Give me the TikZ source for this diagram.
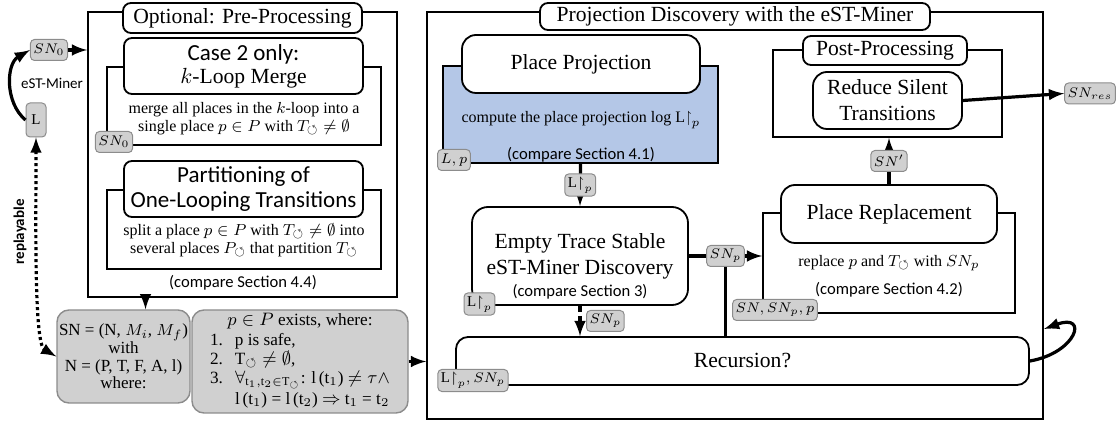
\documentclass[tikz,border=0pt]{standalone}
\usepackage{amssymb}
\usepackage{fontspec}
\setmainfont{Liberation Serif}
\setsansfont{Carlito}
\usetikzlibrary{calc}

\definecolor{tagfill}{HTML}{D0D0D0}
\definecolor{tagdraw}{HTML}{8C8C8C}
\definecolor{projblue}{HTML}{B4C7E7}

\newcommand{\Tloop}{T_{\circlearrowleft}}
\newcommand{\plog}{\mathrm{L}{\upharpoonright}_p}

\begin{document}
\begin{tikzpicture}[x=0.5pt, y=-0.5pt,
    sz/.style 2 args={minimum width=#1*0.5pt, minimum height=#2*0.5pt},
    frame/.style={draw, line width=0.9pt, inner sep=0pt},
    titlebox/.style={draw, line width=0.9pt, rounded corners=4pt, fill=white, inner sep=0pt, align=center},
    tag/.style={draw=tagdraw, fill=tagfill, solid, line width=0.5pt, rounded corners=2pt, inner sep=1.5pt, minimum height=10.5pt, font=\fontsize{7.5}{8}\selectfont},
    graybox/.style={draw=tagdraw, fill=tagfill, rounded corners=6pt, inner sep=1pt, line width=0.7pt, align=center},
    big/.style={font=\fontsize{10.8}{13}\selectfont},
    mid/.style={font=\fontsize{8}{9}\selectfont, align=center},
    cmp/.style={font=\sffamily\fontsize{8.3}{10}\selectfont},
    flow/.style={-latex, line width=1.6pt},
    dflow/.style={-latex, line width=1.6pt, dash pattern=on 3pt off 2pt},
]
    \useasboundingbox (0,0) rectangle (1118,421);

    % pre-processing
    \node[frame, sz={309}{285}] (pre) at (242.5,154.5) {};
    \node[titlebox, big, sz={239}{30}] (pretitle) at (242.5,18) {Optional: Pre-Processing};
    \node[frame, sz={274}{78}] (merge) at (244,106) {};
    \node[titlebox, sz={239}{56}, font=\fontsize{10.8}{11.5}\selectfont] (mergetitle) at (243.5,66) {{\sffamily\fontsize{11.5}{11.5}\selectfont Case 2 only:}\\$k$-Loop Merge};
    \node[mid] (mergetext) at (244,119) {merge all places in the $k$-loop into a\\single place $p \in P$ with $\Tloop \neq \emptyset$};
    \node[tag] (sn0a) at (114,142) {$SN_0$};
    \node[frame, sz={274}{79}] (part) at (244,229.5) {};
    \node[titlebox, sz={239}{56}, font=\sffamily\fontsize{11.5}{12.5}\selectfont] (parttitle) at (243.5,189) {Partitioning of\\One-Looping Transitions};
    \node[mid] (parttext) at (244,240) {split a place $p \in P$ with $\Tloop \neq \emptyset$ into\\several places $P_{\circlearrowleft}$ that partition $\Tloop$};
    \node[cmp] (precmp) at (243,283) {(compare Section 4.4)};

    % input side
    \node[tag] (sn0) at (49,50) {$SN_0$};
    \node[tag, sz={20}{34}] (ltag) at (36,120) {L};
    \node[font=\sffamily\fontsize{7.5}{9}\selectfont] (minerlbl) at (52,83) {eST-Miner};
    \node[font=\sffamily\bfseries\fontsize{7.5}{9}\selectfont, rotate=90] (repllbl) at (20,232) {replayable};
    \node[graybox, sz={133}{93}, font=\fontsize{8.5}{8.8}\selectfont] (snbox) at (123.5,356.5) {SN = (N, $M_i$, $M_f$)\\with\\N = (P, T, F, A, l)\\where:};
    \node[graybox, sz={216}{103}, font=\fontsize{8.6}{9.6}\selectfont] (cond) at (300,361.5) {\begin{tabular}{@{}l@{\hspace{6pt}}l@{}}
        \multicolumn{2}{c}{$p \in P$ exists, where:}\\
        1. & p is safe,\\
        2. & T$_{\circlearrowleft} \neq \emptyset$,\\
        3. & $\forall_{\mathrm{t}_1,\mathrm{t}_2 \in \mathrm{T}_{\circlearrowleft}}$: l\,(t$_1$) $\neq \tau \wedge$\\[1pt]
           & l\,(t$_1$) = l\,(t$_2$) $\Rightarrow$ t$_1$ = t$_2$
    \end{tabular}};

    \draw[flow] (sn0.east) -- (sn0.east -| pre.west);
    \draw[flow] (ltag.west) to[out=140, in=210] (sn0.west);
    \draw[latex-latex, line width=1.6pt, dash pattern=on 1.5pt off 1.5pt] (ltag.south) to[out=-90, in=150, in looseness=0.3] (snbox.west);
    \draw[dflow] (pre.south -| snbox.65) -- (snbox.65);

    % projection discovery
    \node[frame, sz={616}{407}] (right) at (735,215.5) {};
    \node[titlebox, big, sz={390}{27}] (righttitle) at (735,16.5) {Projection Discovery with the eST-Miner};
    \draw[flow] (cond.east) -- (cond.east -| right.west);

    \node[frame, fill=projblue, sz={275}{97}] (proj) at (580.5,114.5) {};
    \node[titlebox, big, sz={238}{58}, rounded corners=7pt] (projtitle) at (581,64) {Place Projection};
    \node[mid] (projtext) at (581,120) {compute the place projection log $\plog$};
    \node[cmp] (projcmp) at (581,155) {(compare Section 4.1)};
    \node[tag] (lp) at (454,160) {$L, p$};

    \node[titlebox, sz={216}{98}, rounded corners=8pt] (est) at (580,256) {};
    \node[big, align=center] (esttext) at (580,256) {Empty Trace Stable\\eST-Miner Discovery};
    \node[cmp] (estcmp) at (580,292) {(compare Section 3)};
    \node[tag] (estin) at (479.5,304) {$\plog$};
    \draw[flow] (proj.south) -- node[tag] (projout) {$\plog$} (est.north);

    \node[titlebox, big, sz={573}{48}, rounded corners=6pt] (rec) at (742.5,361) {Recursion?};
    \node[tag] (recin) at (473,380.5) {$\plog, SN_p$};
    \draw[dflow] (est.south) -- node[tag, right=3pt] (estout) {$SN_p$} (est.south |- rec.north);

    \node[frame, sz={252}{100}] (repl) at (889,263) {};
    \node[titlebox, big, sz={216}{58}, rounded corners=7pt] (repltitle) at (889,214) {Place Replacement};
    \node[mid] (repltext) at (889,263) {replace $p$ and $\Tloop$ with $SN_p$};
    \node[cmp] (replcmp) at (889,290) {(compare Section 4.2)};
    \node[tag] (replin) at (775,310) {$SN, SN_p, p$};
    \draw[flow] (est.east) -- node[tag] (snpmid) {$SN_p$} (est.east -| repl.west);
    \draw[line width=1.6pt] (snpmid.south) -- (snpmid.south |- rec.north);

    % post-processing
    \node[frame, sz={229}{87}] (post) at (887.5,93.5) {};
    \node[titlebox, big, sz={164}{29}] (posttitle) at (885,50.5) {Post-Processing};
    \node[titlebox, big, sz={149}{57}, rounded corners=7pt] (reduce) at (887.5,100.5) {Reduce Silent\\Transitions};
    \draw[flow] (repltitle.north) -- node[tag] (snprime) {$SN'$} (repltitle.north |- post.south);
    \node[tag] (snres) at (1090,93.5) {$SN_{res}$};
    \draw[flow] (reduce.east) -- (snres.west);

    \coordinate (loopend) at (1044,329);
    \draw[flow] (rec.east) to[out=10, in=20, looseness=3.5] (loopend);
\end{tikzpicture}
\end{document}
